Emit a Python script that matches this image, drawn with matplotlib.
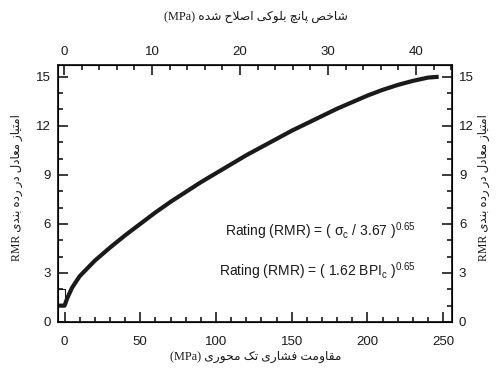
import matplotlib
matplotlib.use('Agg')
import matplotlib.pyplot as plt
from matplotlib.ticker import MultipleLocator

# values
sigma_c = [-5, 0, 2, 5, 10, 20, 30, 40, 50, 60, 70, 80, 90, 100, 110, 120, 130, 140,
           150, 160, 170, 180, 190, 200, 210, 220, 230, 240, 247]
rating = [1.0, 1.0, 1.5, 2.1, 2.8, 3.75, 4.55, 5.3, 6.0, 6.7, 7.35, 7.95, 8.55, 9.1,
          9.65, 10.2, 10.7, 11.2, 11.7, 12.15, 12.6, 13.05, 13.45, 13.85, 14.2, 14.5,
          14.75, 14.95, 15.0]
box_sigma = [-5, 0, 0]
box_rating = [2, 2, 1]

x_ticks = [0, 50, 100, 150, 200, 250]
top_ticks = [0, 10, 20, 30, 40]
y_ticks = [0, 3, 6, 9, 12, 15]

# contextual forms: isolated, final, initial, medial
FORMS = {
    'ا': ('\uFE8D', '\uFE8E', None, None),
    'ب': ('\uFE8F', '\uFE90', '\uFE91', '\uFE92'),
    'پ': ('\uFB56', '\uFB57', '\uFB58', '\uFB59'),
    'ت': ('\uFE95', '\uFE96', '\uFE97', '\uFE98'),
    'چ': ('\uFB7A', '\uFB7B', '\uFB7C', '\uFB7D'),
    'ح': ('\uFEA1', '\uFEA2', '\uFEA3', '\uFEA4'),
    'خ': ('\uFEA5', '\uFEA6', '\uFEA7', '\uFEA8'),
    'د': ('\uFEA9', '\uFEAA', None, None),
    'ر': ('\uFEAD', '\uFEAE', None, None),
    'ز': ('\uFEAF', '\uFEB0', None, None),
    'ش': ('\uFEB5', '\uFEB6', '\uFEB7', '\uFEB8'),
    'ص': ('\uFEB9', '\uFEBA', '\uFEBB', '\uFEBC'),
    'ع': ('\uFEC9', '\uFECA', '\uFECB', '\uFECC'),
    'ف': ('\uFED1', '\uFED2', '\uFED3', '\uFED4'),
    'ق': ('\uFED5', '\uFED6', '\uFED7', '\uFED8'),
    'ک': ('\uFB8E', '\uFB8F', '\uFB90', '\uFB91'),
    'ل': ('\uFEDD', '\uFEDE', '\uFEDF', '\uFEE0'),
    'م': ('\uFEE1', '\uFEE2', '\uFEE3', '\uFEE4'),
    'ن': ('\uFEE5', '\uFEE6', '\uFEE7', '\uFEE8'),
    'ه': ('\uFEE9', '\uFEEA', '\uFEEB', '\uFEEC'),
    'و': ('\uFEED', '\uFEEE', None, None),
    'ی': ('\uFBFC', '\uFBFD', '\uFBFE', '\uFBFF'),
}
DUAL = {c for c, f in FORMS.items() if f[2]}
LAM_ALEF = '\uFEFB'


def fa(s):
    # shape persian letters and reverse into visual order
    s = s.replace('لا', LAM_ALEF)
    res = []
    for i, c in enumerate(s):
        prev = s[i - 1] if i > 0 else ''
        nxt = s[i + 1] if i + 1 < len(s) else ''
        if c == LAM_ALEF:
            res.append('\uFEFC' if prev in DUAL else LAM_ALEF)
            continue
        if c not in FORMS:
            res.append(c)
            continue
        a = prev in DUAL
        b = c in DUAL and (nxt in FORMS or nxt == LAM_ALEF)
        iso, fin, ini, med = FORMS[c]
        if a and b:
            res.append(med)
        elif a:
            res.append(fin)
        elif b:
            res.append(ini)
        else:
            res.append(iso)
    return ''.join(reversed(res))


plt.rcParams['mathtext.fontset'] = 'custom'
plt.rcParams['mathtext.rm'] = 'Liberation Sans'
plt.rcParams['mathtext.it'] = 'Liberation Sans'
plt.rcParams['font.family'] = ['Liberation Sans', 'DejaVu Sans']

ink = '#1a1a1a'
fig = plt.figure(figsize=(4.98, 3.71), dpi=100)
ax = fig.add_axes([58 / 498, 49 / 371, 394 / 498, 257 / 371])

ax.plot(sigma_c, rating, color=ink, lw=3.0, solid_capstyle='butt',
        solid_joinstyle='round', zorder=3)
ax.plot(box_sigma, box_rating, color=ink, lw=0.8, zorder=2)

ax.set_xlim(-4.3, 255.8)
ax.set_ylim(0, 15.72)
ax.set_xticks(x_ticks)
ax.set_yticks(y_ticks)
ax.xaxis.set_minor_locator(MultipleLocator(10))
ax.yaxis.set_minor_locator(MultipleLocator(1))
ax.tick_params(which='both', direction='in', width=1.2, colors=ink,
               labelsize=9.5, right=True, labelright=True)
ax.tick_params(which='major', length=7)
ax.tick_params(which='minor', length=3.5)
ax.tick_params(axis='x', pad=10)
ax.tick_params(axis='y', pad=5)
for sp in ax.spines.values():
    sp.set_linewidth(1.3)
    sp.set_color(ink)

top = ax.twiny()
top.set_xlim(-0.68, 44.09)
top.set_xticks(top_ticks)
top.xaxis.set_minor_locator(MultipleLocator(2))
top.tick_params(which='both', direction='in', width=1.2, colors=ink, labelsize=9.5, pad=5)
top.tick_params(which='major', length=7)
top.tick_params(which='minor', length=3.5)

eq_font = dict(fontsize=10, color=ink, ha='left', va='baseline', transform=ax.transAxes)
ax.text(0.425, 0.335, r'Rating (RMR) = ( $\sigma_{\rm c}$ / 3.67 )$^{0.65}$', **eq_font)
ax.text(0.408, 0.178, r'Rating (RMR) = ( 1.62 BPI$_{\rm c}$ )$^{0.65}$', **eq_font)

lab_family = ['Liberation Serif', 'DejaVu Sans']
fig.text(256 / 498, 1 - 17 / 371, '(MPa) ' + fa('شاخص پانچ بلوکی اصلاح شده'),
         ha='center', va='center', fontsize=8.8, family=lab_family, color=ink)
fig.text(256 / 498, 1 - 357 / 371, '(MPa) ' + fa('مقاومت فشاری تک محوری'),
         ha='center', va='center', fontsize=8.8, family=lab_family, color=ink)
ylab = 'RMR ' + fa('امتیاز معادل در رده بندی')
fig.text(17 / 498, 1 - 188 / 371, ylab, ha='center', va='center', rotation=90,
         fontsize=8.5, family=lab_family, color=ink)
fig.text(484 / 498, 1 - 188 / 371, ylab, ha='center', va='center', rotation=90,
         fontsize=8.5, family=lab_family, color=ink)

fig.savefig('out.png', dpi=100)
